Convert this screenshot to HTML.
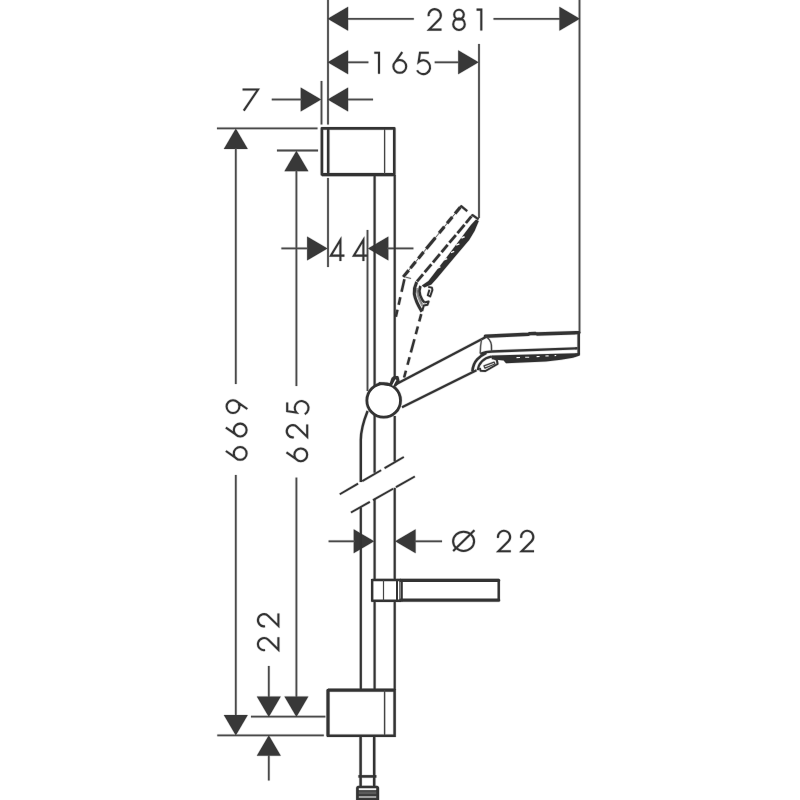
<!DOCTYPE html>
<html lang="en">
<head>
<meta charset="utf-8">
<title>Shower set dimension drawing</title>
<style>
html,body{margin:0;padding:0;background:#fff;}
body{width:800px;height:800px;overflow:hidden;font-family:"Liberation Sans",sans-serif;}
svg{display:block;}
</style>
</head>
<body>
<svg width="800" height="800" viewBox="0 0 800 800" role="img" aria-label="Shower set with wall bar: dimensions 281, 165, 7, 44, 669, 625, 22, diameter 22">
<rect width="800" height="800" fill="#fff"/>
<g opacity="0.13">
<use href="#drawing" x="0.7" y="0"/><use href="#drawing" x="-0.7" y="0"/><use href="#drawing" x="0" y="0.7"/><use href="#drawing" x="0" y="-0.7"/>
</g>
<g id="drawing">
<line x1="328" y1="0" x2="328" y2="124.5" stroke="#4a4a4a" stroke-width="1.8" />
<line x1="328" y1="178" x2="328" y2="267" stroke="#4a4a4a" stroke-width="1.8" />
<line x1="579.5" y1="0" x2="579.5" y2="333" stroke="#4a4a4a" stroke-width="1.8" />
<polygon points="327.6,18.8 348.1,6.800000000000001 348.1,30.8" fill="#383838"/>
<polygon points="579.9,18.8 559.4,6.800000000000001 559.4,30.8" fill="#383838"/>
<line x1="348" y1="18.8" x2="413.8" y2="18.8" stroke="#4a4a4a" stroke-width="1.8" />
<line x1="493.5" y1="18.8" x2="560" y2="18.8" stroke="#4a4a4a" stroke-width="1.8" />
<path d="M1.2,7.6 A6.1,6.1 0 1 1 11.6,10.9 L1.6,21 L14,21" transform="translate(427.5,8.6)" stroke="#333" stroke-width="2.05" fill="none"/>
<path d="M11.3,6 A4.8,4.8 0 1 1 1.7,6 A4.8,4.8 0 1 1 11.3,6 M12.3,15.6 A5.8,5.8 0 1 1 0.7,15.6 A5.8,5.8 0 1 1 12.3,15.6" transform="translate(452.5,8.6)" stroke="#333" stroke-width="2.05" fill="none"/>
<path d="M0.3,1 L5,1 L5,22" transform="translate(476.3,8.6)" stroke="#333" stroke-width="2.05" fill="none"/>
<line x1="479" y1="44" x2="479" y2="218" stroke="#4a4a4a" stroke-width="1.8" />
<polygon points="327.6,62.3 348.1,50.3 348.1,74.3" fill="#383838"/>
<polygon points="478.7,62.3 458.2,50.3 458.2,74.3" fill="#383838"/>
<line x1="348" y1="62.3" x2="368.4" y2="62.3" stroke="#4a4a4a" stroke-width="1.8" />
<line x1="434.7" y1="62.3" x2="459" y2="62.3" stroke="#4a4a4a" stroke-width="1.8" />
<path d="M0.3,1 L5,1 L5,22" transform="translate(374,51.8)" stroke="#333" stroke-width="2.05" fill="none"/>
<path d="M9.6,0.3 L2,11.2 M13.6,14.6 A6.4,6.4 0 1 1 0.8,14.6 A6.4,6.4 0 1 1 13.6,14.6" transform="translate(392.6,51.8)" stroke="#333" stroke-width="2.05" fill="none"/>
<path d="M12.6,1 L3.8,1 L2.4,10.3 A6.9,6.9 0 1 1 0.9,18.6" transform="translate(416.2,51.8)" stroke="#333" stroke-width="2.05" fill="none"/>
<line x1="321.5" y1="81" x2="321.5" y2="124.5" stroke="#4a4a4a" stroke-width="1.8" />
<polygon points="321.2,99.5 300.7,87.5 300.7,111.5" fill="#383838"/>
<polygon points="327.6,99.5 348.1,87.5 348.1,111.5" fill="#383838"/>
<line x1="271.8" y1="99.5" x2="302" y2="99.5" stroke="#4a4a4a" stroke-width="1.8" />
<line x1="348" y1="99.5" x2="373" y2="99.5" stroke="#4a4a4a" stroke-width="1.8" />
<path d="M0,1 L15.4,1 L1.2,22" transform="translate(242.6,88.6)" stroke="#333" stroke-width="2.05" fill="none"/>
<line x1="367.5" y1="230" x2="367.5" y2="391" stroke="#4a4a4a" stroke-width="1.8" />
<polygon points="327.6,248.4 307.1,236.4 307.1,260.4" fill="#383838"/>
<polygon points="367.9,248.4 388.4,236.4 388.4,260.4" fill="#383838"/>
<line x1="281.4" y1="248.4" x2="308" y2="248.4" stroke="#4a4a4a" stroke-width="1.8" />
<line x1="387" y1="248.4" x2="413.4" y2="248.4" stroke="#4a4a4a" stroke-width="1.8" />
<path d="M10.4,22 L10.4,0.8 L0.8,16.6 L14.4,16.6" transform="translate(330,239)" stroke="#333" stroke-width="2.05" fill="none"/>
<path d="M10.4,22 L10.4,0.8 L0.8,16.6 L14.4,16.6" transform="translate(353,239)" stroke="#333" stroke-width="2.05" fill="none"/>
<line x1="217" y1="128.3" x2="317.5" y2="128.3" stroke="#4a4a4a" stroke-width="1.8" />
<line x1="277" y1="150.5" x2="318" y2="150.5" stroke="#4a4a4a" stroke-width="1.8" />
<line x1="217.3" y1="735.4" x2="323.8" y2="735.4" stroke="#4a4a4a" stroke-width="1.8" />
<line x1="251" y1="716.7" x2="325.4" y2="716.7" stroke="#4a4a4a" stroke-width="1.8" />
<polygon points="235.8,128.6 223.8,149.1 247.8,149.1" fill="#383838"/>
<polygon points="235.8,735.4 223.8,714.9 247.8,714.9" fill="#383838"/>
<line x1="235.8" y1="148" x2="235.8" y2="384" stroke="#4a4a4a" stroke-width="1.8" />
<line x1="235.8" y1="475" x2="235.8" y2="715" stroke="#4a4a4a" stroke-width="1.8" />
<polygon points="296.4,150.8 284.4,171.3 308.4,171.3" fill="#383838"/>
<polygon points="296.4,716.9 284.4,696.4 308.4,696.4" fill="#383838"/>
<line x1="296.4" y1="170" x2="296.4" y2="386" stroke="#4a4a4a" stroke-width="1.8" />
<line x1="296.4" y1="477.6" x2="296.4" y2="697" stroke="#4a4a4a" stroke-width="1.8" />
<polygon points="268.8,716.9 256.8,696.4 280.8,696.4" fill="#383838"/>
<polygon points="268.8,735.3 256.8,755.8 280.8,755.8" fill="#383838"/>
<line x1="268.8" y1="666" x2="268.8" y2="697" stroke="#4a4a4a" stroke-width="1.8" />
<line x1="268.8" y1="755" x2="268.8" y2="780.5" stroke="#4a4a4a" stroke-width="1.8" />
<path d="M9.6,0.3 L2,11.2 M13.6,14.6 A6.4,6.4 0 1 1 0.8,14.6 A6.4,6.4 0 1 1 13.6,14.6" transform="translate(225.6,460.6) rotate(-90)" stroke="#333" stroke-width="2.05" fill="none"/>
<path d="M9.6,0.3 L2,11.2 M13.6,14.6 A6.4,6.4 0 1 1 0.8,14.6 A6.4,6.4 0 1 1 13.6,14.6" transform="translate(225.6,437.2) rotate(-90)" stroke="#333" stroke-width="2.05" fill="none"/>
<path d="M4.4,21.7 L12,10.8 M13.2,7.4 A6.4,6.4 0 1 1 0.4,7.4 A6.4,6.4 0 1 1 13.2,7.4" transform="translate(225.6,413.4) rotate(-90)" stroke="#333" stroke-width="2.05" fill="none"/>
<path d="M9.6,0.3 L2,11.2 M13.6,14.6 A6.4,6.4 0 1 1 0.8,14.6 A6.4,6.4 0 1 1 13.6,14.6" transform="translate(286.2,462) rotate(-90)" stroke="#333" stroke-width="2.05" fill="none"/>
<path d="M1.2,7.6 A6.1,6.1 0 1 1 11.6,10.9 L1.6,21 L14,21" transform="translate(286.2,438.5) rotate(-90)" stroke="#333" stroke-width="2.05" fill="none"/>
<path d="M12.6,1 L3.8,1 L2.4,10.3 A6.9,6.9 0 1 1 0.9,18.6" transform="translate(286.2,415) rotate(-90)" stroke="#333" stroke-width="2.05" fill="none"/>
<path d="M1.2,7.6 A6.1,6.1 0 1 1 11.6,10.9 L1.6,21 L14,21" transform="translate(257.4,651.3) rotate(-90)" stroke="#333" stroke-width="2.05" fill="none"/>
<path d="M1.2,7.6 A6.1,6.1 0 1 1 11.6,10.9 L1.6,21 L14,21" transform="translate(257.4,627.5) rotate(-90)" stroke="#333" stroke-width="2.05" fill="none"/>
<polygon points="374.2,541.3 353.7,529.3 353.7,553.3" fill="#383838"/>
<polygon points="395.1,541.3 415.6,529.3 415.6,553.3" fill="#383838"/>
<line x1="328.6" y1="541.3" x2="355" y2="541.3" stroke="#4a4a4a" stroke-width="1.8" />
<line x1="414.5" y1="541.3" x2="442" y2="541.3" stroke="#4a4a4a" stroke-width="1.8" />
<ellipse cx="463.6" cy="541.3" rx="10.5" ry="9.6" stroke="#333" stroke-width="2.05" fill="none"/>
<line x1="453.2" y1="551" x2="474.4" y2="530.2" stroke="#333" stroke-width="2.05" />
<path d="M1.2,7.6 A6.1,6.1 0 1 1 11.6,10.9 L1.6,21 L14,21" transform="translate(496.8,530.3)" stroke="#333" stroke-width="2.05" fill="none"/>
<path d="M1.2,7.6 A6.1,6.1 0 1 1 11.6,10.9 L1.6,21 L14,21" transform="translate(520,530.3)" stroke="#333" stroke-width="2.05" fill="none"/>
<path d="M321.9,128.4 H394.3 V174.5 H321.9 Z" stroke="#333" stroke-width="2.6" fill="none" stroke-linejoin="round"/>
<line x1="321.9" y1="174.6" x2="394.3" y2="174.6" stroke="#333" stroke-width="3.2" />
<line x1="328.2" y1="129" x2="328.2" y2="174" stroke="#333" stroke-width="2.5" />
<line x1="384.6" y1="129" x2="384.6" y2="174" stroke="#444" stroke-width="1.2" />
<line x1="374.6" y1="175" x2="374.6" y2="472.8" stroke="#333" stroke-width="2.2" />
<line x1="394.7" y1="175" x2="394.7" y2="377.5" stroke="#333" stroke-width="2.2" />
<line x1="394.7" y1="416" x2="394.7" y2="461.5" stroke="#333" stroke-width="2.2" />
<line x1="374.6" y1="499" x2="374.6" y2="690" stroke="#333" stroke-width="2.2" />
<line x1="394.7" y1="487.8" x2="394.7" y2="690" stroke="#333" stroke-width="2.2" />
<line x1="339.8" y1="494.2" x2="358.04" y2="483.6" stroke="#333" stroke-width="1.9" />
<line x1="362.2" y1="481.18" x2="381.08" y2="470.21" stroke="#333" stroke-width="1.9" />
<line x1="384.6" y1="468.16" x2="403.8" y2="457.0" stroke="#333" stroke-width="1.9" />
<line x1="351.0" y1="512.5" x2="369.82" y2="501.88" stroke="#333" stroke-width="1.9" />
<line x1="373.01" y1="500.08" x2="393.11" y2="488.74" stroke="#333" stroke-width="1.9" />
<line x1="395.98" y1="487.12" x2="414.8" y2="476.5" stroke="#333" stroke-width="1.9" />
<path d="M367.6,411 C363.6,421 360.8,430 360.8,440 L360.8,482" stroke="#333" stroke-width="2.4" fill="none" />
<line x1="360.8" y1="507.3" x2="360.8" y2="690" stroke="#333" stroke-width="2.2" />
<line x1="360.6" y1="736" x2="360.6" y2="776" stroke="#333" stroke-width="2.5" />
<line x1="374.2" y1="736" x2="374.2" y2="776" stroke="#333" stroke-width="2.5" />
<line x1="358.4" y1="776.4" x2="376.4" y2="776.4" stroke="#333" stroke-width="2.6" />
<line x1="360.6" y1="776" x2="360.6" y2="787" stroke="#333" stroke-width="2.5" />
<line x1="374.2" y1="776" x2="374.2" y2="787" stroke="#333" stroke-width="2.5" />
<path d="M357.3,800 V788.2 Q357.3,786.9 358.6,786.9 H376.6 Q377.9,786.9 377.9,788.2 V800 Z" stroke="#333" stroke-width="2.4" fill="#3a3a3a" />
<line x1="358.8" y1="789.2" x2="376.2" y2="789.2" stroke="#f4f4f4" stroke-width="1.9" />
<line x1="358.8" y1="792.8" x2="376.2" y2="792.8" stroke="#5a5a5a" stroke-width="2.6" />
<line x1="358.8" y1="797" x2="376.2" y2="797" stroke="#b0b0b0" stroke-width="1.7" />
<path d="M328,690.3 H394.6 V735.8 H328 Z" stroke="#333" stroke-width="2.5" fill="none" />
<line x1="328" y1="690.1" x2="394.6" y2="690.1" stroke="#333" stroke-width="3.0" />
<line x1="328" y1="690" x2="328" y2="736" stroke="#333" stroke-width="3.0" />
<line x1="384.6" y1="690" x2="384.6" y2="735" stroke="#444" stroke-width="1.3" />
<rect x="372.2" y="580" width="126.6" height="20.8" fill="#fff"/>
<path d="M372.2,580 H401 M372.2,600.8 H401 M372.2,579 V601.8" stroke="#333" stroke-width="2.4" fill="none" />
<path d="M400.6,580.4 H498.6 M400.6,600.2 H498.6" stroke="#333" stroke-width="3.3" fill="none" stroke-linecap="round"/>
<line x1="498.7" y1="580" x2="498.7" y2="600.6" stroke="#333" stroke-width="2.5" />
<line x1="383.5" y1="580" x2="383.5" y2="600.6" stroke="#444" stroke-width="1.2" />
<line x1="397" y1="580" x2="397" y2="600.6" stroke="#333" stroke-width="2.0" />
<line x1="399.8" y1="580" x2="399.8" y2="600.6" stroke="#444" stroke-width="1.1" />
<line x1="401.7" y1="579.4" x2="401.7" y2="601.4" stroke="#333" stroke-width="2.2" />
<circle cx="383.7" cy="400.4" r="16.8" stroke="#333" stroke-width="2.8" fill="#fff"/>
<line x1="378.6" y1="383.2" x2="390" y2="385" stroke="#333" stroke-width="2.6" />
<path d="M390.4,385.4 L392.6,378.8 L394.4,377.2 L397.4,377.4 L398.4,381.6 L394.6,386" stroke="#333" stroke-width="2.6" fill="#333" stroke-linejoin="round"/>
<line x1="392.7" y1="385.6" x2="395.9" y2="379.6" stroke="#fff" stroke-width="1.3" />
<line x1="395.6" y1="384.4" x2="485.9" y2="336.9" stroke="#333" stroke-width="2.3" />
<line x1="402" y1="407.2" x2="476.5" y2="370.2" stroke="#333" stroke-width="2.3" />
<path d="M485.4,336.3 L528.5,334.2 L530,333.6 L535.5,333.5 L537,334 L578.8,332.6" stroke="#333" stroke-width="3.4" fill="none" stroke-linejoin="round" stroke-linecap="round"/>
<line x1="578.7" y1="332" x2="578.7" y2="354.6" stroke="#333" stroke-width="2.6" />
<path d="M480.2,353.8 Q485.5,351.6 492,351.5 L577.6,348.3" stroke="#333" stroke-width="2.4" fill="none" />
<polygon points="491.6,355.5 579.8,353.1 579.8,355.4 573,357.8 561,359.8 546,361.6 506,363.2 503.6,360.4 491.8,359.2" fill="#2f2f2f"/>
<line x1="516.5" y1="357.6" x2="520" y2="357.5" stroke="#f4f4f4" stroke-width="1.1" />
<line x1="525.2" y1="357.3" x2="529.2" y2="357.2" stroke="#f4f4f4" stroke-width="1.1" />
<line x1="536.6" y1="356.6" x2="539.6" y2="356.5" stroke="#f4f4f4" stroke-width="1.1" />
<line x1="545.4" y1="356.0" x2="548.6" y2="355.9" stroke="#f4f4f4" stroke-width="1.1" />
<line x1="554.6" y1="355.6" x2="556.2" y2="355.5" stroke="#f4f4f4" stroke-width="1.1" />
<path d="M485.4,336.3 Q490.6,339 491.4,345 L491.6,351.4" stroke="#444" stroke-width="1.4" fill="none" />
<path d="M481.6,339 L480.6,346 L480.2,353.6" stroke="#555" stroke-width="1.4" fill="none" />
<path d="M472.4,371.4 Q473,364 477.2,359.4 Q480.6,355.6 486.4,352.8" stroke="#333" stroke-width="2.6" fill="none" />
<path d="M477.8,370.2 Q478.4,364.8 482,361.2 Q485.6,357.6 491.2,356.6" stroke="#333" stroke-width="2.2" fill="none" />
<path d="M491.2,356.4 L496.8,359.8 L497.6,364 L485.4,371 L480.6,370.8 L479.8,368" stroke="#333" stroke-width="2.0" fill="none" stroke-linejoin="round"/>
<path d="M484,365.8 L494.2,362.1 L494.9,364 L485,368.2 Z" stroke="#444" stroke-width="1.3" fill="none" stroke-linejoin="round"/>
<line x1="461.1" y1="206.3" x2="403.4" y2="276.8" stroke="#555" stroke-width="0.9" />
<path d="M460.28,207.26 L455.08,213.60 M452.29,217.00 L447.10,223.35 M444.31,226.75 L439.12,233.10 M435.38,237.66 L426.26,248.80 M423.59,252.05 L418.40,258.40 M415.64,261.76 L410.45,268.11 M408.71,270.24 L403.26,276.89" stroke="#333" stroke-width="3.1" fill="none" stroke-linecap="butt"/>
<path d="M460.2,207.2 L461.2,206.2 L467.2,211.2" stroke="#333" stroke-width="2.2" fill="none" stroke-linejoin="round"/>
<path d="M405.2,277 L411,278.5" stroke="#666" stroke-width="1.2" fill="none" />
<path d="M404.40,279.30 L401.57,291.78 M400.31,297.34 L398.65,304.66 M397.47,309.82 L395.90,316.75" stroke="#333" stroke-width="2.5" fill="none" stroke-linecap="butt"/>
<path d="M471.4,216 L472.6,215.2 L478.6,219.4" stroke="#333" stroke-width="2.2" fill="none" stroke-linejoin="round"/>
<path d="M471.37,216.48 L465.92,223.00 M464.44,224.76 L457.51,233.04 M455.84,235.04 L449.42,242.70 M447.63,244.85 L441.59,252.06 M439.86,254.13 L433.00,262.34 M431.33,264.33 L424.72,272.23 M422.98,274.30 L417.02,281.43" stroke="#333" stroke-width="2.7" fill="none" stroke-linecap="butt"/>
<polygon points="476,219.6 478.8,221 474.6,231 469.2,240 455.4,256.3 437.2,278 431.4,284.4 424.4,287.6 421.8,285.6 428.4,281 448,255.5 470.9,225" fill="#2f2f2f"/>
<line x1="461.4" y1="238.0" x2="464.6" y2="236.8" stroke="#f4f4f4" stroke-width="1.5" />
<line x1="456.2" y1="245.1" x2="459.40000000000003" y2="243.9" stroke="#f4f4f4" stroke-width="1.5" />
<line x1="451.0" y1="252.6" x2="454.20000000000005" y2="251.4" stroke="#f4f4f4" stroke-width="1.5" />
<line x1="444.0" y1="259.8" x2="447.20000000000005" y2="258.59999999999997" stroke="#f4f4f4" stroke-width="1.5" />
<line x1="437.2" y1="268.0" x2="440.40000000000003" y2="266.79999999999995" stroke="#f4f4f4" stroke-width="1.5" />
<path d="M417.2,288 Q416.4,295 422.6,306" stroke="#9a9a9a" stroke-width="2.4" fill="none" />
<path d="M416.7,282 Q413.8,288 414.3,294 Q415.6,301.6 421.9,311.6" stroke="#333" stroke-width="3.0" fill="none" />
<path d="M420.4,286 Q418.6,291 420.2,295.4 Q421.6,299.4 424.2,302.4" stroke="#333" stroke-width="2.5" fill="none" />
<path d="M424.2,302.4 L428.6,301.6 L427.4,304.8 L423.8,305.4 L422.2,311" stroke="#333" stroke-width="2.0" fill="none" stroke-linejoin="round"/>
<path d="M417.2,290 L419,297 L422,304" stroke="#777" stroke-width="1.0" fill="none" />
<path d="M428.2,286.9 L431.9,287.6 L432.4,290 L430.2,296.4 L427.8,295.2 L429.4,289.8" stroke="#333" stroke-width="1.9" fill="none" stroke-linejoin="round"/>
<path d="M421.21,314.06 L419.26,321.30 M417.85,326.52 L415.82,334.05 M414.42,339.26 L410.87,352.39 M409.57,357.22 L407.54,364.75 M405.92,370.74 L404.10,377.49" stroke="#333" stroke-width="2.5" fill="none" stroke-linecap="butt"/>
</g>
</svg>
</body>
</html>
